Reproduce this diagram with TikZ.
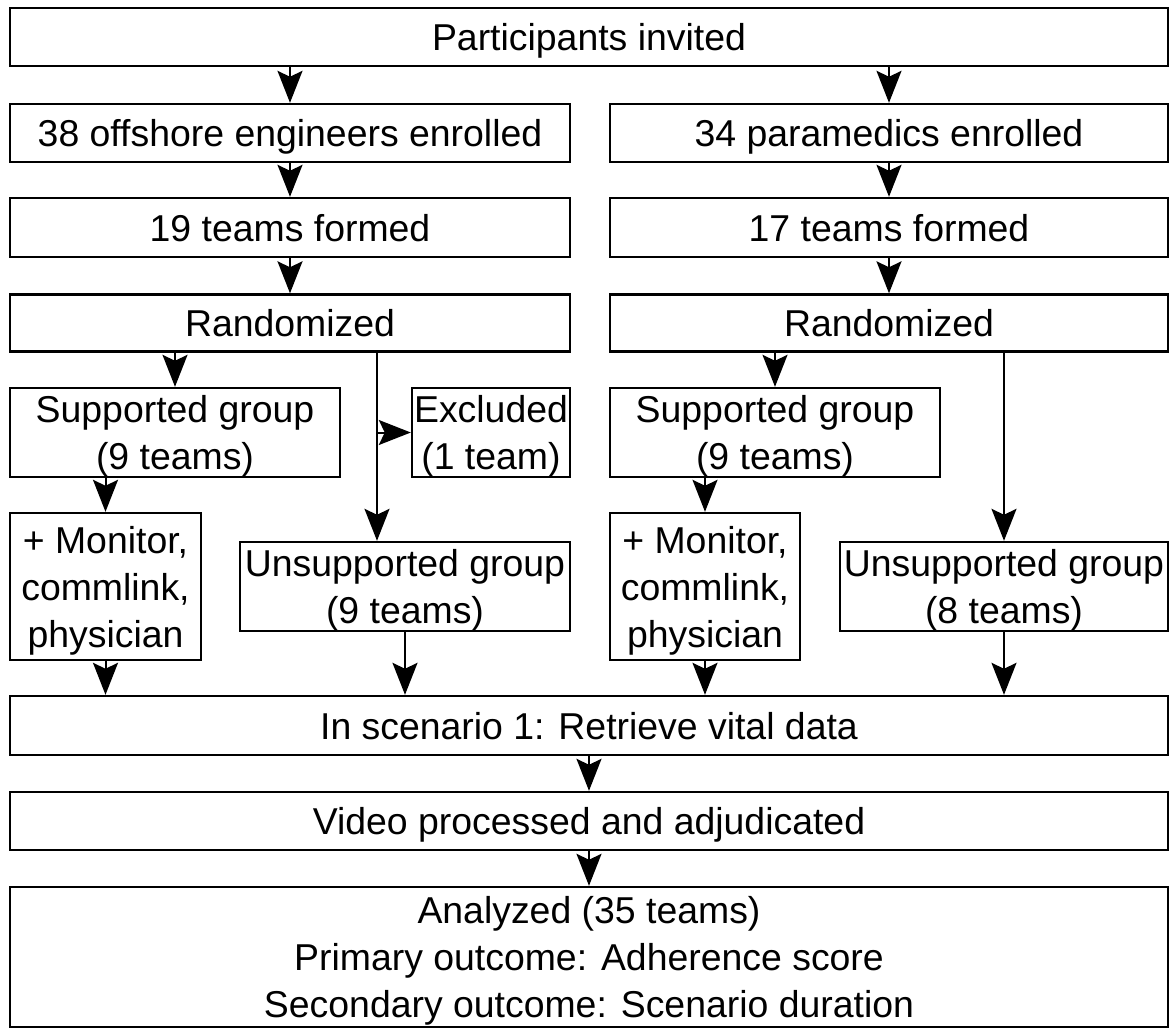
\documentclass[tikz,border=0pt]{standalone}
\usepackage{fontspec}
\setmainfont{Liberation Sans}
\usetikzlibrary{arrows.meta}

\tikzset{
    box/.style={draw, line width=1.2pt, align=center, inner sep=0pt, text depth=-3pt,
        font=\fontsize{18.7}{23.5}\selectfont},
    flow/.style={line width=1pt, -{Stealth[length=16pt, width=12.5pt, inset=3pt]}}
}

\begin{document}
\begin{tikzpicture}[x=0.5pt, y=-0.5pt]
    % Page frame
    \useasboundingbox (0,0) rectangle (1169,1028);

    % Top of the chart
    \node[box, minimum width=579pt, minimum height=29pt] (invited) at (589,37) {Participants invited};

    % Left column
    \node[box, minimum width=280pt, minimum height=29pt] (engEnrolled) at (290,133) {38 offshore engineers enrolled};
    \node[box, minimum width=280pt, minimum height=29.5pt] (engTeams) at (290,227.5) {19 teams formed};
    \node[box, minimum width=280pt, minimum height=28.5pt] (engRand) at (290,323) {Randomized};
    \node[box, minimum width=165pt, minimum height=44.5pt] (engSup) at (175,432.5) {Supported group\\(9 teams)};
    \node[box, minimum width=79pt, minimum height=44.5pt] (excl) at (491,432.5) {Excluded\\(1 team)};
    \node[box, minimum width=95.5pt, minimum height=73.5pt] (engMon) at (105.5,586.5) {+ Monitor,\\commlink,\\physician};
    \node[box, minimum width=165pt, minimum height=44.5pt] (engUns) at (405,586.5) {Unsupported group\\(9 teams)};

    % Right column
    \node[box, minimum width=279pt, minimum height=29pt] (medEnrolled) at (889,133) {34 paramedics enrolled};
    \node[box, minimum width=279pt, minimum height=29.5pt] (medTeams) at (889,227.5) {17 teams formed};
    \node[box, minimum width=279pt, minimum height=28.5pt] (medRand) at (889,323) {Randomized};
    \node[box, minimum width=165pt, minimum height=44.5pt] (medSup) at (775,432.5) {Supported group\\(9 teams)};
    \node[box, minimum width=95pt, minimum height=73.5pt] (medMon) at (705,586.5) {+ Monitor,\\commlink,\\physician};
    \node[box, minimum width=164pt, minimum height=44.5pt] (medUns) at (1004,586.5) {Unsupported group\\(8 teams)};

    % Bottom of the chart
    \node[box, minimum width=579pt, minimum height=29.5pt] (scen) at (589,725.5) {In scenario 1: Retrieve vital data};
    \node[box, minimum width=579pt, minimum height=29pt] (video) at (589,821) {Video processed and adjudicated};
    \node[box, minimum width=579pt, minimum height=70pt] (analyzed) at (589,957) {Analyzed (35 teams)\\Primary outcome: Adherence score\\Secondary outcome: Scenario duration};

    % Arrows down the left column
    \draw[flow] (engEnrolled.north |- invited.south) -- (engEnrolled.north);
    \draw[flow] (engEnrolled) -- (engTeams);
    \draw[flow] (engTeams) -- (engRand);
    \draw[flow] (engSup.north |- engRand.south) -- (engSup.north);
    \coordinate (engBranch) at (377,432.5);
    \draw[flow] (engRand.south -| engBranch) -- (engUns.north -| engBranch);
    \draw[flow] (engBranch) -- (excl.west);
    \draw[flow] (engMon.north |- engSup.south) -- (engMon.north);
    \draw[flow] (engMon) -- (engMon |- scen.north);
    \draw[flow] (engUns) -- (engUns |- scen.north);

    % Arrows down the right column
    \draw[flow] (medEnrolled.north |- invited.south) -- (medEnrolled.north);
    \draw[flow] (medEnrolled) -- (medTeams);
    \draw[flow] (medTeams) -- (medRand);
    \draw[flow] (medSup.north |- medRand.south) -- (medSup.north);
    \draw[flow] (medUns.north |- medRand.south) -- (medUns.north);
    \draw[flow] (medMon.north |- medSup.south) -- (medMon.north);
    \draw[flow] (medMon) -- (medMon |- scen.north);
    \draw[flow] (medUns) -- (medUns |- scen.north);

    % Arrows to the end
    \draw[flow] (scen) -- (video);
    \draw[flow] (video) -- (analyzed);
\end{tikzpicture}
\end{document}
